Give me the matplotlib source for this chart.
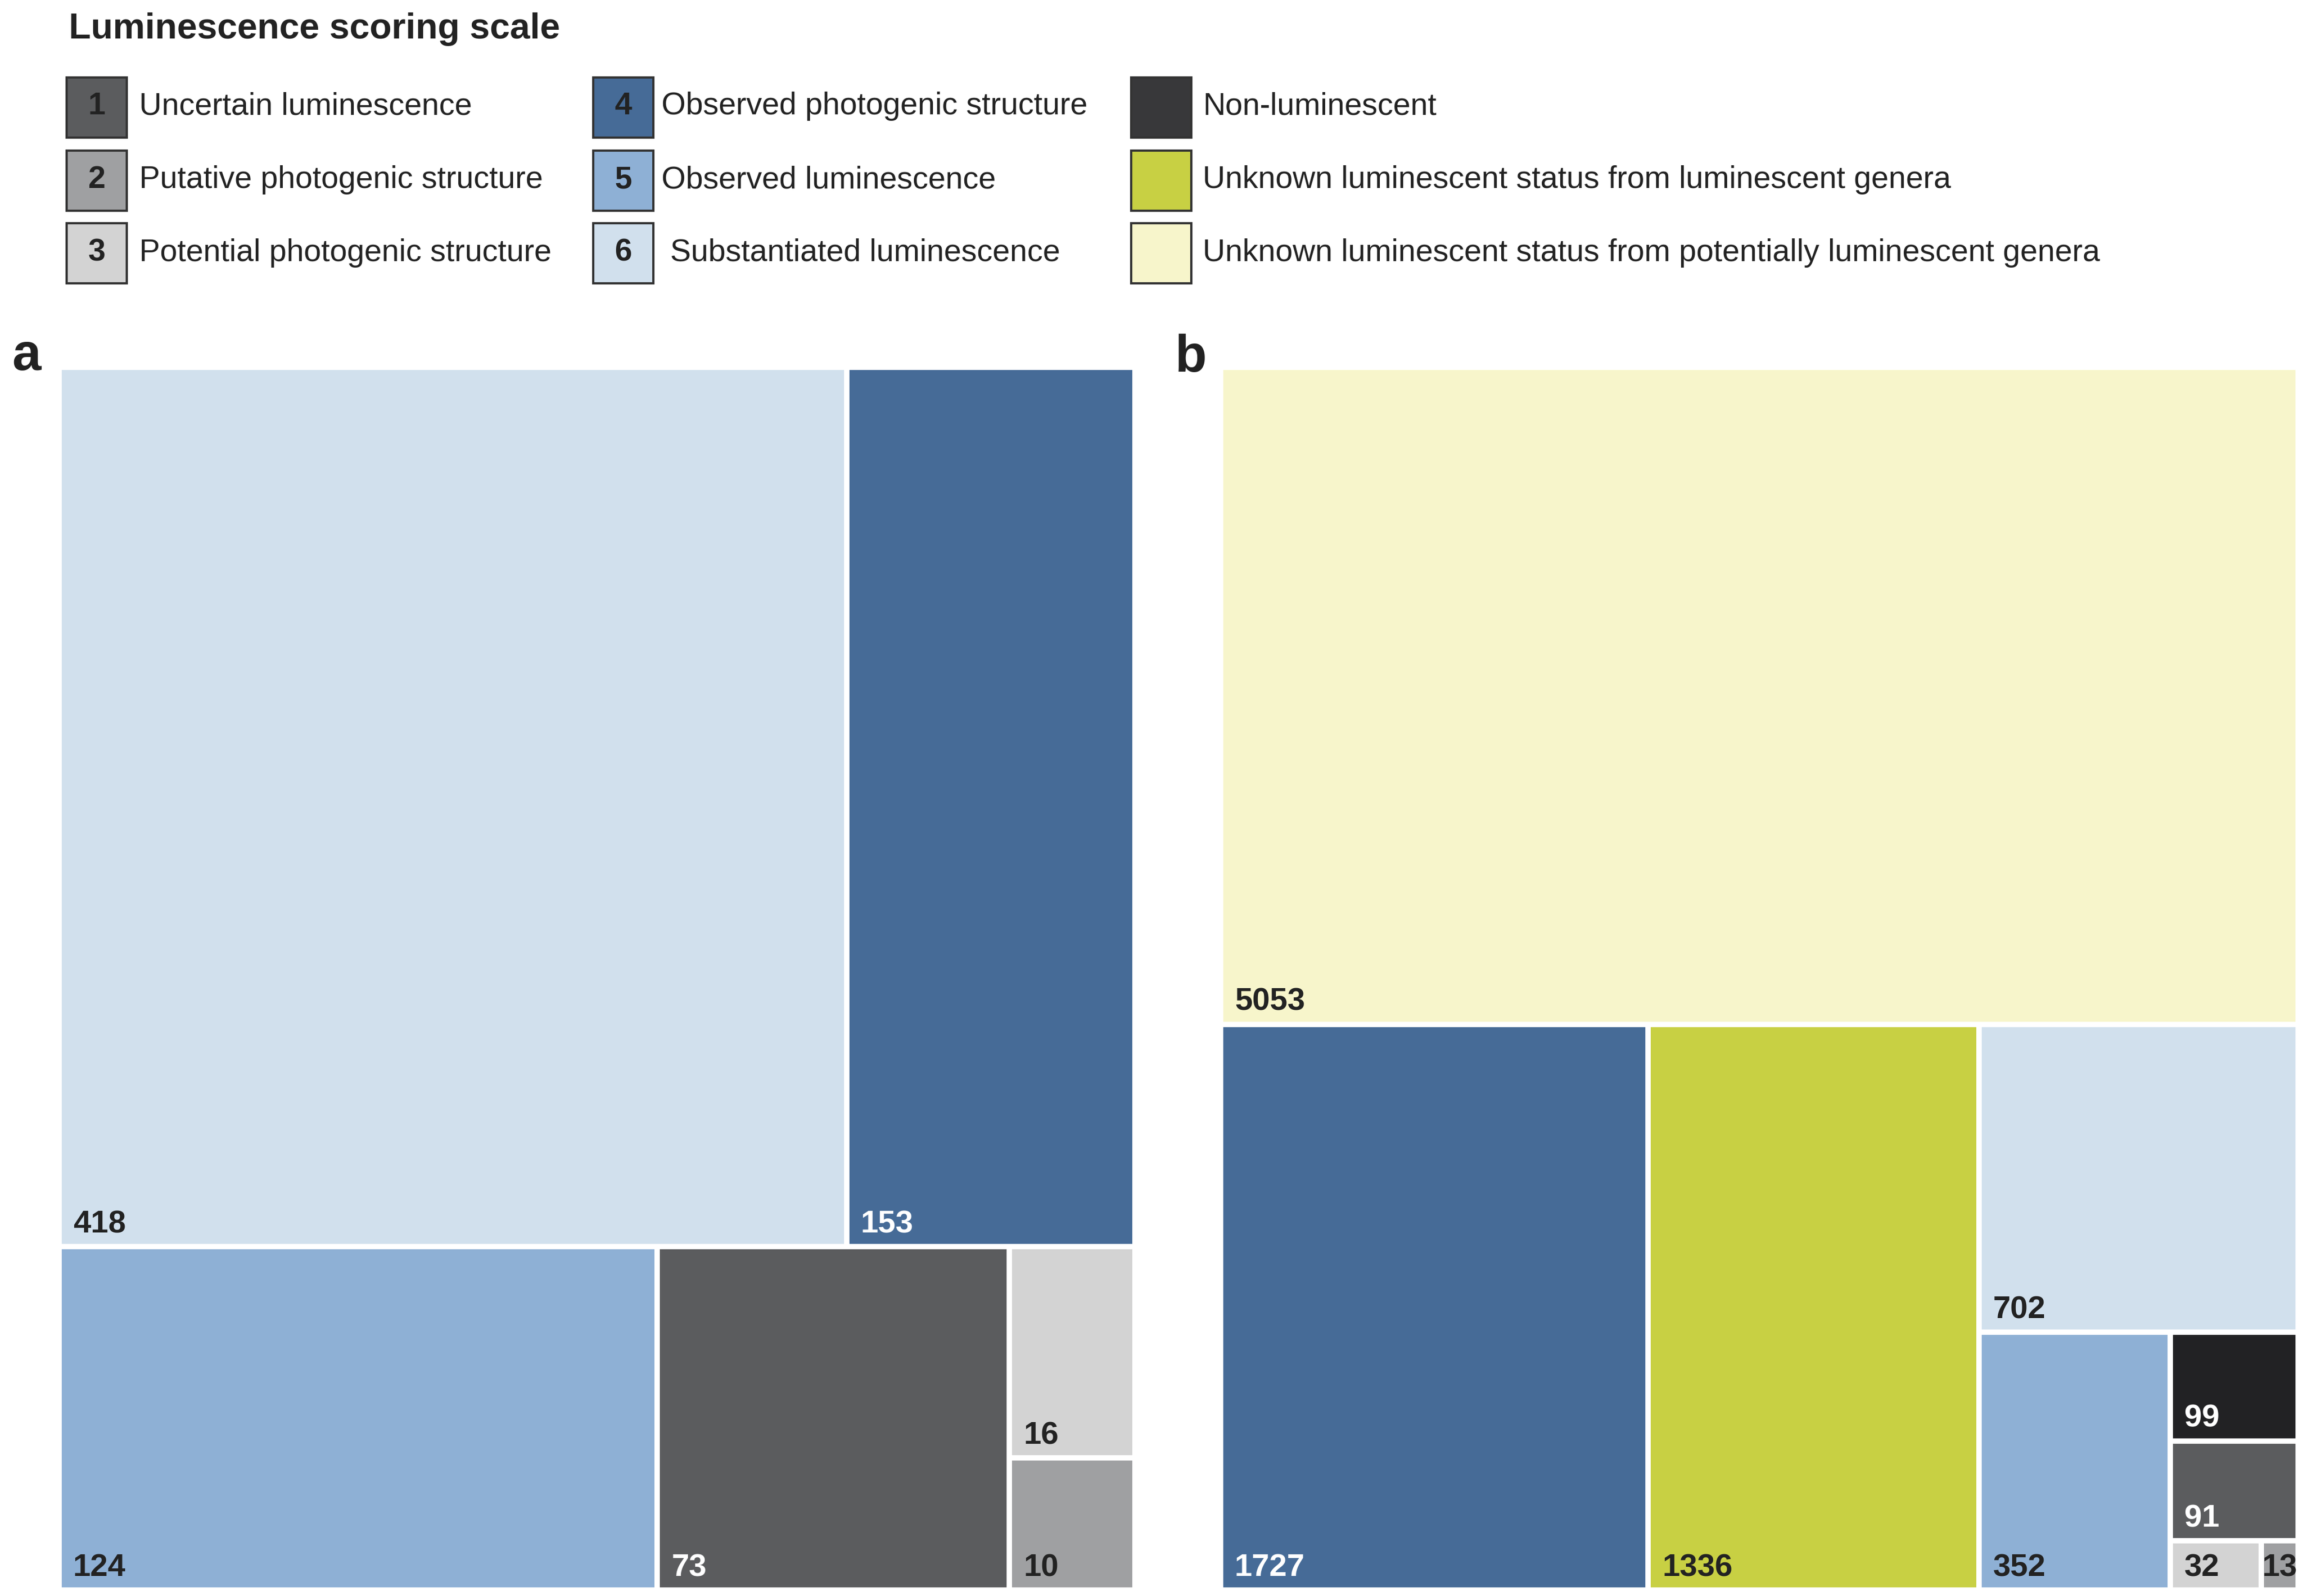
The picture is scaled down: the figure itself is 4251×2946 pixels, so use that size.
import matplotlib
matplotlib.use('Agg')
import matplotlib.pyplot as plt
from matplotlib.patches import Rectangle

plt.rcParams['font.family'] = ['Liberation Sans', 'DejaVu Sans']

# scoring categories used in the legend and for tile colours
cat_keys = ['1', '2', '3', '4', '5', '6', 'NL', 'UL', 'UP']
cat_names = ['Uncertain luminescence', 'Putative photogenic structure', 'Potential photogenic structure',
             'Observed photogenic structure', 'Observed luminescence', ' Substantiated luminescence',
             'Non-luminescent', 'Unknown luminescent status from luminescent genera',
             'Unknown luminescent status from potentially luminescent genera']
cat_colors = ['#5b5c5e', '#9fa0a2', '#d3d3d3', '#466b97', '#8eb0d5', '#d1e0ed',
              '#222224', '#c8d043', '#f7f5cb']
legend_fill = {'NL': '#38383a'}

# panel a
a_values = [418, 153, 124, 73, 16, 10]
a_cats = ['6', '4', '5', '1', '3', '2']
a_layout = [[0, 1], [2, 3, [4, 5]]]

# panel b
b_values = [5053, 1727, 1336, 702, 352, 99, 91, 32, 13]
b_cats = ['UP', '4', 'UL', '6', '5', 'NL', '1', '3', '2']
b_layout = [0, [1, 2, [3, [4, [5, 6, [7, 8]]]]]]

light_text = {'4', '1', 'NL'}
color_of = dict(zip(cat_keys, cat_colors))

W, H = 4251, 2946
fig = plt.figure(figsize=(W / 300, H / 300), dpi=300)


def node_sum(node, vals):
    if isinstance(node, int):
        return vals[node]
    return sum(node_sum(c, vals) for c in node)


def layout(node, vals, x, y, w, h, vertical, out):
    if isinstance(node, int):
        out[node] = (x, y, w, h)
        return
    total = node_sum(node, vals)
    pos = 0.0
    for child in node:
        frac = node_sum(child, vals) / total
        if vertical:
            ch = h * frac
            layout(child, vals, x, y + h - pos - ch, w, ch, False, out)
            pos += ch
        else:
            cw = w * frac
            layout(child, vals, x + pos, y, cw, h, True, out)
            pos += cw


def draw_panel(ax, vals, cats, tree):
    rects = {}
    layout(tree, vals, 0, 0, 1, 1, True, rects)
    for i, v in enumerate(vals):
        x, y, w, h = rects[i]
        ax.add_patch(Rectangle((x, y), w, h, facecolor=color_of[cats[i]],
                               edgecolor='white', linewidth=2.4))
        tc = 'white' if cats[i] in light_text else '#222222'
        if w < 0.05:
            ax.annotate(str(v), xy=(x + w / 2, y), xytext=(0, 6), textcoords='offset points',
                        ha='center', va='baseline', fontsize=14, fontweight='bold', color=tc)
        else:
            ax.annotate(str(v), xy=(x, y), xytext=(6.2, 6.2), textcoords='offset points',
                        ha='left', va='baseline', fontsize=14, fontweight='bold', color=tc)
    ax.set_xlim(0, 1)
    ax.set_ylim(0, 1)
    ax.axis('off')


def px(x0, y0, x1, y1):
    return [x0 / W, 1 - y1 / H, (x1 - x0) / W, (y1 - y0) / H]


ax_a = fig.add_axes(px(109, 678, 2095, 2935))
draw_panel(ax_a, a_values, a_cats, a_layout)
ax_b = fig.add_axes(px(2253, 678, 4242, 2935))
draw_panel(ax_b, b_values, b_cats, b_layout)

fig.text(22 / W, 1 - 683 / H, 'a', fontsize=23, fontweight='bold', color='#222222', va='baseline')
fig.text(2169 / W, 1 - 686 / H, 'b', fontsize=23, fontweight='bold', color='#222222', va='baseline')

# legend
fig.text(127 / W, 1 - 71 / H, 'Luminescence scoring scale', fontsize=16, fontweight='bold',
         color='#222222', va='baseline')
col_box_x = [123, 1095, 2088]
col_text_x = [257, 1221, 2220]
row_top = [143, 278, 412]
row_base = [211, 347, 482]
box = 111
for k, key in enumerate(cat_keys):
    col, row = k // 3, k % 3
    bx, by = col_box_x[col], row_top[row]
    fig.add_artist(Rectangle((bx / W, 1 - (by + box) / H), box / W, box / H,
                             facecolor=legend_fill.get(key, color_of[key]), edgecolor='#333333',
                             linewidth=1.0, transform=fig.transFigure))
    if col < 2:
        fig.text((bx + box / 2) / W, 1 - row_base[row] / H, key, fontsize=13.8, fontweight='bold',
                 color='#222222', ha='center', va='baseline')
    fig.text(col_text_x[col] / W, 1 - row_base[row] / H, cat_names[k], fontsize=13.8,
             color='#222222', va='baseline')

fig.savefig('out.png', dpi=300)
